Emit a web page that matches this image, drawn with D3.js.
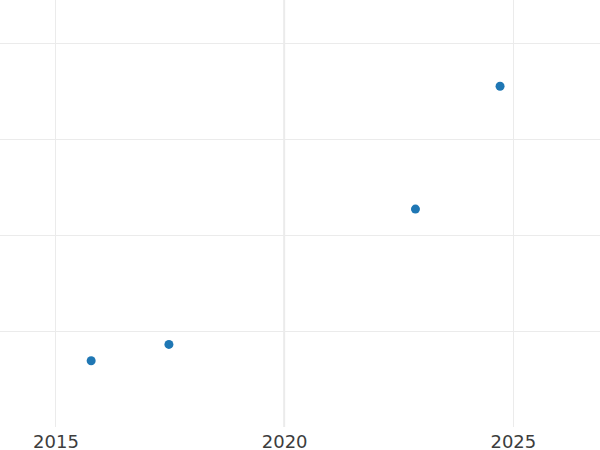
<!DOCTYPE html>
<html>
<head>
<meta charset="utf-8">
<script src="https://cdn.jsdelivr.net/npm/d3@7/dist/d3.min.js"></script>
<style>
  html, body { margin: 0; padding: 0; background: #fff; }
  svg { display: block; }
</style>
</head>
<body>
<svg id="chart" width="600" height="450"></svg>
<script>
// Data
const years = [2015.78, 2017.48, 2022.87, 2024.72];
const values = [0.69, 0.86, 2.27, 3.55];
const xTicks = [2015, 2020, 2025];
const yTicks = [1, 2, 3, 4];

const W = 600, H = 450;
const plotBottom = 427;
const svg = d3.select("#chart");

const x = d3.scaleLinear().domain([2013.787, 2026.905]).range([0, W]);
const y = d3.scaleLinear().domain([0, 4.448]).range([plotBottom, 0]);

// horizontal gridlines
svg.append("g").selectAll("line").data(yTicks).join("line")
  .attr("x1", 0).attr("x2", W)
  .attr("y1", d => Math.round(y(d)) + 0.5).attr("y2", d => Math.round(y(d)) + 0.5)
  .attr("stroke", "#ebebeb").attr("stroke-width", 1);

// vertical gridlines
svg.append("g").selectAll("line").data(xTicks).join("line")
  .attr("x1", d => d === 2020 ? x(d) : Math.round(x(d)) + 0.5)
  .attr("x2", d => d === 2020 ? x(d) : Math.round(x(d)) + 0.5)
  .attr("y1", 0).attr("y2", plotBottom)
  .attr("stroke", "#ebebeb").attr("stroke-width", d => d === 2020 ? 2 : 1);

// x axis labels
const xAxis = d3.axisBottom(x).tickValues(xTicks).tickFormat(d3.format("d")).tickSize(0).tickPadding(0);
const gx = svg.append("g").attr("transform", `translate(0,${plotBottom})`).call(xAxis);
gx.select(".domain").remove();
gx.selectAll("text")
  .attr("y", 20.5).attr("dy", 0)
  .attr("font-family", "DejaVu Sans")
  .attr("font-size", 18)
  .attr("fill", "#3d3d3d");

// points
svg.append("g").selectAll("circle").data(years).join("circle")
  .attr("cx", d => x(d))
  .attr("cy", (d, i) => y(values[i]))
  .attr("r", 4.5)
  .attr("fill", "#1f77b4");
</script>
</body>
</html>
